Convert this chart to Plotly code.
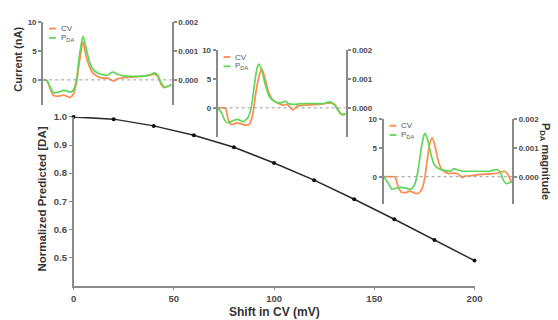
import plotly.graph_objects as go

W, H = 558, 320

def px(x):
    return x / W

def py(y):
    return 1 - y / H

# ---------------- main data ----------------
shift_mv = [0, 20, 40, 60, 80, 100, 120, 140, 160, 180, 200]
norm_pred = [1.0, 0.992, 0.968, 0.935, 0.892, 0.836, 0.775, 0.707, 0.636, 0.562, 0.489]
x_ticks = [0, 50, 100, 150, 200]
y_ticks = [0.5, 0.6, 0.7, 0.8, 0.9, 1.0]
y_tick_labels = ["0.5", "0.6", "0.7", "0.8", "0.9", "1.0"]

# ---------------- inset data (sweep position %, current nA / PDA magnitude) ----------------
cv1_t = [0, 3, 5.6, 8.1, 11.9, 15.7, 18.3, 20.8, 23.4, 25.9, 28.4, 31.0, 33.5, 36.0, 38.6, 42.4,
         46.2, 50.0, 52.5, 54.6, 57.6, 62.7, 67.8, 72.8, 77.9, 83.0, 86.8, 89.3, 91.9, 94.4, 97.0, 100]
cv1_nA = [0, -0.2, -1.6, -2.7, -2.8, -2.6, -2.8, -3.0, -2.5, -0.5, 3.4, 6.5, 4.0, 2.3, 1.2, 0.6,
          0.3, 0.3, 0.05, -0.2, 0.15, 0.4, 0.45, 0.55, 0.65, 0.8, 1.0, 0.6, -0.8, -1.35, -1.1, -0.8]
pda1_t = cv1_t
pda1_mag = [0, -0.00002, -0.00027, -0.00044, -0.00042, -0.00036, -0.00038, -0.00042, -0.00036, 0.00001,
            0.0009, 0.0015, 0.00108, 0.00062, 0.00037, 0.00024, 0.00018, 0.00016, 0.00024, 0.00027,
            0.0002, 0.00014, 0.00012, 0.00012, 0.00013, 0.00017, 0.00024, 0.00016, -0.0001, -0.00024,
            -0.00022, -0.00016]

cv2_t = [0, 3.1, 6.2, 8.2, 10.8, 14.6, 18.5, 22.3, 24.9, 27.4, 30.0, 32.6, 34.4, 36.9, 39.5, 42.8,
         46.7, 51.8, 54.4, 56.9, 59.0, 62.1, 67.2, 74.9, 82.6, 87.7, 91.5, 94.1, 96.7, 100]
cv2_nA = [0, 0, -0.1, -2.0, -2.9, -2.6, -2.8, -3.0, -2.8, -1.15, 2.9, 5.7, 6.8, 5.2, 2.9, 1.45,
          0.85, 0.45, 0.6, 0, -0.35, 0.3, 0.45, 0.55, 0.7, 0.85, 0.6, -0.3, -1.15, -1.15]
pda2_t = [0, 3.1, 5.6, 8.2, 12.1, 15.9, 19.7, 23.6, 26.2, 28.7, 30.8, 32.1, 34.4, 36.9, 40.3, 44.1,
          49.2, 53.1, 55.6, 59.5, 67.2, 74.9, 82.6, 87.7, 91.5, 95.4, 97.9, 100]
pda2_mag = [0, -0.00017, -0.00044, -0.00052, -0.00044, -0.0004, -0.00048, -0.00034, 0, 0.0008,
            0.00138, 0.00152, 0.00132, 0.00086, 0.0004, 0.00023, 0.00017, 0.00023, 0.00014, 0.00012,
            0.00015, 0.00015, 0.00015, 0.00021, 0.00009, -0.00017, -0.00023, -0.0002]

cv3_t = [0, 5.1, 8.9, 11.5, 14.0, 17.8, 20.4, 24.2, 27.2, 29.8, 31.8, 33.8, 35.6, 37.7, 39.9, 42.0,
         44.5, 47.6, 50.9, 54.7, 58.5, 61.1, 63.6, 68.7, 75.1, 82.7, 89.1, 94.1, 96.7, 98.5, 100]
cv3_nA = [0, 0, -0.05, -1.85, -2.7, -2.7, -2.5, -2.85, -2.85, -2.15, -0.45, 2.6, 5.4, 6.7, 5.4, 3.2,
          1.5, 0.85, 0.55, 0.65, 0.4, -0.15, 0.1, 0.2, 0.4, 0.5, 0.65, 0.95, 0.4, -0.45, -1.0]
pda3_t = [0, 3.3, 6.4, 10.2, 14.0, 17.8, 21.1, 24.2, 26.7, 29.3, 31.3, 32.3, 34.4, 36.9, 39.4, 43.3,
          48.3, 52.2, 54.7, 57.3, 61.1, 67.4, 75.1, 82.7, 87.3, 90.3, 92.9, 95.4, 98.0, 100]
pda3_mag = [0, -0.0002, -0.00043, -0.00039, -0.00037, -0.0004, -0.00043, -0.00026, 0.00019, 0.00098,
            0.00142, 0.0015, 0.00126, 0.00076, 0.00042, 0.00027, 0.00021, 0.00019, 0.00028, 0.00024,
            0.00019, 0.00019, 0.00019, 0.00019, 0.00025, 0.00019, -0.00009, -0.00024, -0.0002, -0.00015]

current_ticks = [0, 5, 10]
pda_ticks = [0, 0.001, 0.002]
pda_tick_labels = ["0.000", "0.001", "0.002"]

ORANGE = "#FF8A4C"
GREEN = "#5FD85A"
AXIS = "#8a8a8a"
TICKTXT = "#4a4a4a"
FONT = "Liberation Sans"

fig = go.Figure()

fig.add_trace(go.Scatter(
    x=shift_mv, y=norm_pred, mode="lines+markers",
    line=dict(color="#2b2b2b", width=1.5),
    marker=dict(color="#111111", size=4),
    cliponaxis=False, showlegend=False, xaxis="x", yaxis="y"))

insets = [
    dict(cv_t=cv1_t, cv=cv1_nA, pda_t=pda1_t, pda=pda1_mag, xa="x2", yl="y2", yr="y3",
         left=41, right=172, top=16, bottom=101, zero=75.3),
    dict(cv_t=cv2_t, cv=cv2_nA, pda_t=pda2_t, pda=pda2_mag, xa="x3", yl="y4", yr="y5",
         left=219, right=349.5, top=45, bottom=133, zero=103.8),
    dict(cv_t=cv3_t, cv=cv3_nA, pda_t=pda3_t, pda=pda3_mag, xa="x4", yl="y6", yr="y7",
         left=388.3, right=519.3, top=115, bottom=202, zero=174),
]

layout_axes = {}
shapes = []
annotations = []

tickfont_small = dict(family=FONT, size=8, color=TICKTXT, weight="bold")
tickfont_main = dict(family=FONT, size=9.5, color=TICKTXT, weight="bold")

for i, ins in enumerate(insets):
    fig.add_trace(go.Scatter(x=ins["cv_t"], y=ins["cv"], mode="lines",
                             line=dict(color=ORANGE, width=1.7, shape="spline", smoothing=0.6),
                             showlegend=False, xaxis=ins["xa"], yaxis=ins["yl"]))
    fig.add_trace(go.Scatter(x=ins["pda_t"], y=ins["pda"], mode="lines",
                             line=dict(color=GREEN, width=1.7, shape="spline", smoothing=0.6),
                             showlegend=False, xaxis=ins["xa"], yaxis=ins["yr"]))
    unit = (ins["zero"] - ins["top"]) / 10.0
    lo = -(ins["bottom"] - ins["zero"]) / unit
    xname = "xaxis" + ins["xa"][1:]
    ylname = "yaxis" + ins["yl"][1:]
    yrname = "yaxis" + ins["yr"][1:]
    dom_x = [px(ins["left"]), px(ins["right"])]
    dom_y = [py(ins["bottom"]), py(ins["top"])]
    layout_axes[xname] = dict(domain=dom_x, range=[0, 100], visible=False, anchor=ins["yl"])
    layout_axes[ylname] = dict(domain=dom_y, range=[lo, 10], anchor=ins["xa"],
                               tickvals=current_ticks, showline=True, linecolor=AXIS, linewidth=2,
                               ticks="outside", ticklen=3, tickcolor=AXIS, tickwidth=1.5,
                               showgrid=False, zeroline=False, tickfont=tickfont_small)
    layout_axes[yrname] = dict(overlaying=ins["yl"], side="right", anchor=ins["xa"],
                               range=[lo * 0.0002, 0.002], tickvals=pda_ticks,
                               ticktext=pda_tick_labels, showline=True, linecolor=AXIS,
                               linewidth=2, ticks="outside", ticklen=3, tickcolor=AXIS,
                               tickwidth=1.5, showgrid=False, zeroline=False,
                               tickfont=tickfont_small)
    shapes.append(dict(type="line", xref=ins["xa"] + " domain", x0=0, x1=1,
                       yref=ins["yl"], y0=0, y1=0, line=dict(color="#9a9a9a", width=1, dash="dot")))
    # legend glyphs
    lx0, lx1, tx = ins["left"] + 6, ins["left"] + 13, ins["left"] + 16
    for row, (col, label) in enumerate([(ORANGE, "CV"), (GREEN, "P<sub>DA</sub>")]):
        yy = ins["top"] + 7 + 9.5 * row
        shapes.append(dict(type="line", xref="paper", yref="paper", x0=px(lx0), x1=px(lx1),
                           y0=py(yy), y1=py(yy), line=dict(color=col, width=1.8)))
        annotations.append(dict(x=px(tx), y=py(yy), xref="paper", yref="paper", text=label,
                                showarrow=False, xanchor="left", yanchor="middle",
                                font=dict(family=FONT, size=8, color="#555555")))

annotations.append(dict(x=px(15), y=py(54), xref="paper", yref="paper", text="Current (nA)",
                        showarrow=False, textangle=-90, xanchor="center", yanchor="middle",
                        font=dict(family=FONT, size=11, color="#333333", weight="bold")))
annotations.append(dict(x=px(553), y=py(158), xref="paper", yref="paper",
                        text="P<sub>DA</sub> magnitude",
                        showarrow=False, textangle=90, xanchor="center", yanchor="middle",
                        font=dict(family=FONT, size=11, color="#333333", weight="bold")))
annotations.append(dict(x=px(40), y=py(197), xref="paper", yref="paper",
                        text="Normalized Predicted [DA]",
                        showarrow=False, textangle=-90, xanchor="center", yanchor="middle",
                        font=dict(family=FONT, size=11.5, color="#333333", weight="bold")))
annotations.append(dict(x=px(276.5), y=py(312), xref="paper", yref="paper",
                        text="Shift in CV (mV)",
                        showarrow=False, xanchor="center", yanchor="middle",
                        font=dict(family=FONT, size=12, color="#333333", weight="bold")))

fig.update_layout(
    width=W, height=H,
    margin=dict(l=0, r=0, t=0, b=0, pad=0),
    paper_bgcolor="white", plot_bgcolor="rgba(0,0,0,0)",
    showlegend=False,
    xaxis=dict(domain=[px(72), px(481)], range=[0, 200], tickvals=x_ticks, anchor="y",
               showline=True, linecolor=AXIS, linewidth=1.5, ticks="outside", ticklen=3,
               tickcolor=AXIS, showgrid=False, zeroline=False, tickfont=tickfont_main),
    yaxis=dict(domain=[py(285), py(113)], range=[0.4, 1.0], tickvals=y_ticks,
               ticktext=y_tick_labels, anchor="x",
               showline=True, linecolor=AXIS, linewidth=1.5, ticks="outside", ticklen=3,
               tickcolor=AXIS, showgrid=False, zeroline=False, tickfont=tickfont_main),
    shapes=shapes, annotations=annotations,
    **layout_axes,
)

fig.write_html(
    "out.html",
    config={"displayModeBar": False},
    post_script="document.body.style.margin='0';document.documentElement.style.overflow='hidden';",
)
